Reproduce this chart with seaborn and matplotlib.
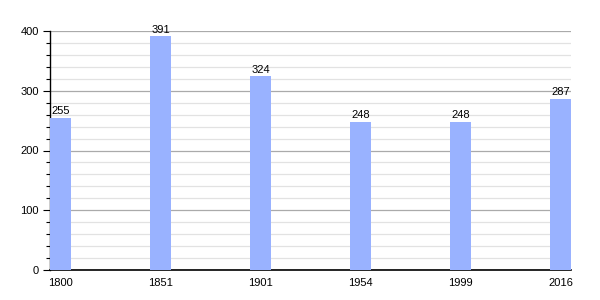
import matplotlib
matplotlib.use("Agg")
import matplotlib.pyplot as plt
import seaborn as sns
import pandas as pd
from matplotlib.ticker import MultipleLocator

years = ["1800", "1851", "1901", "1954", "1999", "2016"]
population = [255, 391, 324, 248, 248, 287]

sns.set_style("white")
plt.rcParams['font.family'] = ['Liberation Sans', 'DejaVu Sans']
plt.rcParams['text.color'] = 'black'
plt.rcParams['xtick.color'] = 'black'
plt.rcParams['ytick.color'] = 'black'

df = pd.DataFrame({"year": years, "pop": population})

fig = plt.figure(figsize=(6, 3), dpi=100)
ax = fig.add_axes([50/600, 1-270/300, 521/600, 239/300])

sns.barplot(data=df, x="year", y="pop", color="#99b2ff", saturation=1,
            width=0.21, ax=ax, linewidth=0, edgecolor="none", zorder=3)

ax.set_ylim(0, 400)
ax.set_xlim(-0.105, 5.105)
ax.yaxis.set_major_locator(MultipleLocator(100))
ax.yaxis.set_minor_locator(MultipleLocator(20))
ax.grid(axis="y", which="major", color="#aaaaaa", linewidth=0.9, zorder=0)
ax.grid(axis="y", which="minor", color="#e2e2e2", linewidth=0.9, zorder=0)
ax.set_axisbelow(True)

for s in ["top", "right"]:
    ax.spines[s].set_visible(False)
ax.spines["left"].set_color("black")
ax.spines["bottom"].set_color("black")
ax.spines["left"].set_linewidth(1)
ax.spines["bottom"].set_linewidth(1.2)

ax.tick_params(axis="y", which="major", left=True, length=5, width=0.8,
               labelsize=8, pad=3, color="black", labelcolor="black")
ax.tick_params(axis="y", which="minor", left=True, length=3, width=0.8, color="black")
ax.tick_params(axis="x", bottom=False, labelsize=8, pad=2, labelcolor="black")
ax.set_xlabel("")
ax.set_ylabel("")

for cont in ax.containers:
    ax.bar_label(cont, labels=[str(v) for v in population], fontsize=8,
                 padding=1, color="black")

fig.savefig("out.png", dpi=100)
